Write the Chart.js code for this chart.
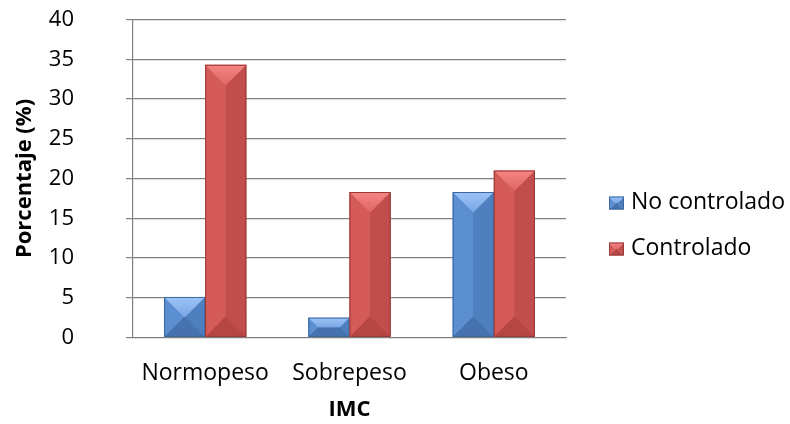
<!DOCTYPE html>
<html lang="es">
<head>
    <meta charset="UTF-8">
    <title>Control por IMC</title>
    <script src="https://cdn.jsdelivr.net/npm/chart.js"></script>
    <style>
        html, body { margin: 0; padding: 0; background: #fff; }
        canvas { display: block; }
    </style>
</head>
<body>
<canvas id="imcChart" width="790" height="424"></canvas>
<script>
    // Datos del gráfico
    const categorias = ['Normopeso', 'Sobrepeso', 'Obeso'];
    const noControlado = [5.1, 2.5, 18.3];
    const controlado = [34.3, 18.3, 21.0];
    const etiquetasSerie = ['No controlado', 'Controlado'];
    const ticksY = [0, 5, 10, 15, 20, 25, 30, 35, 40];

    const FUENTE = "'Open Sans', 'Noto Sans', sans-serif";

    // Paletas para el efecto de bisel (cara superior, izquierda, derecha, inferior, borde)
    const paletas = [
        { top1: '#9cc4f7', top2: '#79a6e4', left: '#5b8fd2', right: '#4e7fbf', bottom: '#4673b0', edge: '#3b669e' },
        { top1: '#f48583', top2: '#e06664', left: '#d55b59', right: '#c14e4c', bottom: '#b64644', edge: '#953836' }
    ];

    function dibujarBisel(ctx, left, right, top, base, pal) {
        const w = right - left;
        const h = base - top;
        if (w <= 0 || h <= 0) return;
        const half = w / 2;
        const d = Math.min(half, h / 2);
        const il = left + d, ir = right - d;

        const cara = (pts, fill) => {
            ctx.beginPath();
            ctx.moveTo(pts[0][0], pts[0][1]);
            for (let i = 1; i < pts.length; i++) ctx.lineTo(pts[i][0], pts[i][1]);
            ctx.closePath();
            ctx.fillStyle = fill;
            ctx.fill();
        };

        cara([[left, top], [il, top + d], [il, base - d], [left, base]], pal.left);
        cara([[right, top], [ir, top + d], [ir, base - d], [right, base]], pal.right);
        // franja central: mitad clara, mitad oscura
        const cx = (left + right) / 2;
        cara([[il, top + d], [cx, top + d], [cx, base - d], [il, base - d]], pal.left);
        cara([[cx, top + d], [ir, top + d], [ir, base - d], [cx, base - d]], pal.right);
        cara([[left, base], [right, base], [ir, base - d], [il, base - d]], pal.bottom);

        const g = ctx.createLinearGradient(0, top, 0, top + d);
        g.addColorStop(0, pal.top1);
        g.addColorStop(1, pal.top2);
        cara([[left, top], [right, top], [ir, top + d], [il, top + d]], g);

        ctx.strokeStyle = pal.edge;
        ctx.lineWidth = 1;
        ctx.strokeRect(left + 0.5, top + 0.5, w - 1, h - 1);
    }

    const biselPlugin = {
        id: 'bisel',
        afterDatasetsDraw(chart) {
            const ctx = chart.ctx;
            ctx.save();
            chart.data.datasets.forEach((ds, i) => {
                const meta = chart.getDatasetMeta(i);
                meta.data.forEach(bar => {
                    const p = bar.getProps(['x', 'y', 'base', 'width'], true);
                    dibujarBisel(ctx, p.x - p.width / 2, p.x + p.width / 2, p.y, p.base, paletas[i]);
                });
            });
            ctx.restore();
        }
    };

    // Leyenda a la derecha con el mismo cuadro biselado
    const leyendaPlugin = {
        id: 'leyendaDerecha',
        afterDraw(chart) {
            const ctx = chart.ctx;
            ctx.save();
            const x0 = 609;
            const filas = [203, 249];
            chart.data.datasets.forEach((ds, i) => {
                const y = filas[i];
                dibujarBisel(ctx, x0, x0 + 15, y - 6.5, y + 6.5, paletas[i]);
                ctx.fillStyle = '#000';
                ctx.font = '23px ' + FUENTE;
                ctx.textAlign = 'left';
                ctx.textBaseline = 'middle';
                ctx.fillText(ds.label, x0 + 22, y - 1);
            });
            ctx.restore();
        }
    };

    new Chart(document.getElementById('imcChart'), {
        type: 'bar',
        data: {
            labels: categorias,
            datasets: [
                { label: etiquetasSerie[0], data: noControlado, backgroundColor: paletas[0].left },
                { label: etiquetasSerie[1], data: controlado, backgroundColor: paletas[1].left }
            ]
        },
        options: {
            responsive: false,
            devicePixelRatio: 1,
            animation: false,
            categoryPercentage: 0.57,
            barPercentage: 1,
            layout: { padding: { top: 19.5, right: 224, left: 0, bottom: 0 } },
            plugins: {
                legend: { display: false },
                tooltip: { enabled: false }
            },
            scales: {
                x: {
                    grid: { display: false },
                    border: { display: true, color: '#808080', width: 1 },
                    ticks: { color: '#000', font: { family: FUENTE, size: 23 }, padding: 14 },
                    title: {
                        display: true, text: 'IMC', color: '#000',
                        font: { family: FUENTE, size: 22, weight: 'bold', lineHeight: 1 },
                        padding: { top: 3, bottom: 3 }
                    },
                    afterFit(scale) { scale.height = 86.5; }
                },
                y: {
                    min: 0,
                    max: 40,
                    afterBuildTicks(scale) { scale.ticks = ticksY.map(v => ({ value: v })); },
                    grid: { color: '#808080', lineWidth: 1.2, tickLength: 7 },
                    border: { display: true, color: '#808080', width: 1.2 },
                    ticks: { color: '#000', font: { family: FUENTE, size: 22 }, padding: 52 },
                    title: {
                        display: true, text: 'Porcentaje (%)', color: '#000',
                        font: { family: FUENTE, size: 22, weight: 'bold', lineHeight: 1 },
                        padding: { top: 14, bottom: 0 }
                    },
                    afterFit(scale) {
                        scale.width = 133;
                        // el relleno de las etiquetas no debe empujar el área del gráfico
                        scale.paddingTop = 0;
                        scale.paddingBottom = 0;
                    }
                }
            }
        },
        plugins: [biselPlugin, leyendaPlugin]
    });
</script>
</body>
</html>
